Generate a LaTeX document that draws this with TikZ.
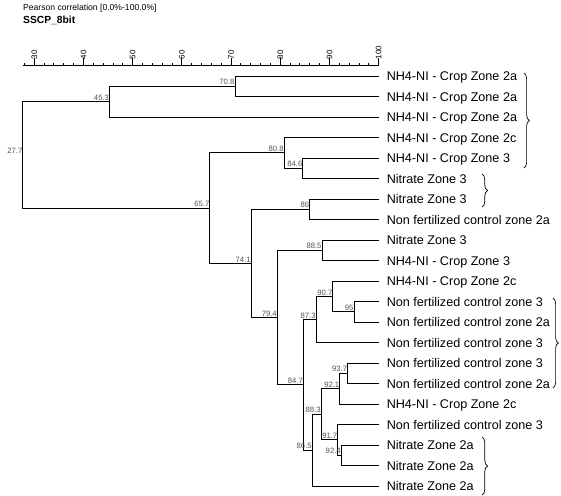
\documentclass[tikz,border=0pt]{standalone}
\usepackage{fontspec}
\setmainfont{Liberation Sans}
\usetikzlibrary{decorations.pathreplacing}
\tikzset{
  branch/.style     = {line width=1pt},
  scale line/.style = {line width=1pt},
  scalelabel/.style = {rotate=90, anchor=west, inner sep=0pt,
                       font=\fontsize{8}{9}\selectfont},
  corr/.style       = {anchor=south east, inner xsep=0.4pt, inner ysep=1pt,
                       text=black!68, font=\fontsize{7.7}{9}\selectfont},
  leaf/.style       = {anchor=base west, inner sep=0pt,
                       font=\fontsize{12.6}{14}\selectfont},
  groupbrace/.style = {decorate, decoration={brace, amplitude=5.5pt}, line width=0.7pt},
}

\begin{document}
\begin{tikzpicture}[x=4.92pt, y=-1pt]
  \useasboundingbox (23.03,0) rectangle (137.05,495);

  % ---------------- header ----------------------------------------------
  \node[anchor=west, inner sep=0pt, font=\fontsize{8.6}{10}\selectfont]
        (hdr) at (27.7,8.3) {Pearson correlation [0.0\%-100.0\%]};
  \node[anchor=west, inner sep=0pt, font=\fontsize{10.3}{12}\bfseries]
        (ttl) at (27.7,20.7) {SSCP\_8bit};

  % ---------------- similarity scale ------------------------------------
  \draw[scale line] (27.7,65) -- (100,65);
  \foreach \v in {28,30,...,100} \draw[scale line] (\v,65) -- ++(0,-2.5);
  \foreach \v in {30,40,...,100} {
    \draw[scale line] (\v,65) -- ++(0,-7);
    \node[scalelabel] (t\v) at (\v,59.5) {\v};
  }

  % ---------------- leaves ----------------------------------------------
  \foreach \i/\txt in {1/NH4-NI - Crop Zone 2a, 2/NH4-NI - Crop Zone 2a,
      3/NH4-NI - Crop Zone 2a, 4/NH4-NI - Crop Zone 2c, 5/NH4-NI - Crop Zone 3,
      6/Nitrate Zone 3, 7/Nitrate Zone 3, 8/Non fertilized control zone 2a,
      9/Nitrate Zone 3, 10/NH4-NI - Crop Zone 3, 11/NH4-NI - Crop Zone 2c,
      12/Non fertilized control zone 3, 13/Non fertilized control zone 2a,
      14/Non fertilized control zone 3, 15/Non fertilized control zone 3,
      16/Non fertilized control zone 2a, 17/NH4-NI - Crop Zone 2c,
      18/Non fertilized control zone 3, 19/Nitrate Zone 2a,
      20/Nitrate Zone 2a, 21/Nitrate Zone 2a} {
    \coordinate (l\i) at (100,{76+20.5*(\i-1)});
    \node[leaf] (n\i) at (101.6,{80.5+20.5*(\i-1)}) {\txt};
  }

  % ---------------- junctions -------------------------------------------
  \coordinate (j708) at (70.8,86.25);
  \coordinate (j453) at (45.3,101.63);
  \coordinate (j846) at (84.6,168.25);
  \coordinate (j808) at (80.8,152.88);
  \coordinate (j86)  at (86,209.25);
  \coordinate (j885) at (88.5,250.25);
  \coordinate (j95)  at (95,311.75);
  \coordinate (j907) at (90.7,296.38);
  \coordinate (j873) at (87.3,319.44);
  \coordinate (j937) at (93.7,373.25);
  \coordinate (j921) at (92.1,388.63);
  \coordinate (j924) at (92.4,455.25);
  \coordinate (j917) at (91.7,439.88);
  \coordinate (j883) at (88.3,414.25);
  \coordinate (j865) at (86.5,450.13);
  \coordinate (j847) at (84.7,384.78);
  \coordinate (j794) at (79.4,317.52);
  \coordinate (j741) at (74.1,263.38);
  \coordinate (j657) at (65.7,208.13);
  \coordinate (j277) at (27.7,154.88);

  \draw[branch] (l1) -| (j708) |- (l2);
  \draw[branch] (j708) -| (j453) |- (l3);
  \draw[branch] (l4) -| (j808) |- (j846);
  \draw[branch] (l5) -| (j846) |- (l6);
  \draw[branch] (l7) -| (j86) |- (l8);
  \draw[branch] (l9) -| (j885) |- (l10);
  \draw[branch] (l11) -| (j907) |- (j95);
  \draw[branch] (l12) -| (j95) |- (l13);
  \draw[branch] (j907) -| (j873) |- (l14);
  \draw[branch] (l15) -| (j937) |- (l16);
  \draw[branch] (j937) -| (j921) |- (l17);
  \draw[branch] (l18) -| (j917) |- (j924);
  \draw[branch] (l19) -| (j924) |- (l20);
  \draw[branch] (j921) -| (j883) |- (j917);
  \draw[branch] (j883) -| (j865) |- (l21);
  \draw[branch] (j873) -| (j847) |- (j865);
  \draw[branch] (j885) -| (j794) |- (j847);
  \draw[branch] (j86) -| (j741) |- (j794);
  \draw[branch] (j808) -| (j657) |- (j741);
  \draw[branch] (j453) -| (j277) |- (j657);

  \foreach \j/\v in {708/70.8, 453/45.3, 846/84.6, 808/80.8, 86/86, 885/88.5,
      95/95, 907/90.7, 873/87.3, 937/93.7, 921/92.1, 924/92.4, 917/91.7,
      883/88.3, 865/86.5, 847/84.7, 794/79.4, 741/74.1, 657/65.7, 277/27.7}
    \node[corr] (c\j) at (j\j) {\v};

  % ---------------- group braces ----------------------------------------
  \draw[groupbrace] (129.5,73) -- (129.5,168);
  \draw[groupbrace] (121.0,174) -- (121.0,207);
  \draw[groupbrace] (135.4,298) -- (135.4,388);
  \draw[groupbrace] (121.0,437) -- (121.0,495);
\end{tikzpicture}
\end{document}
